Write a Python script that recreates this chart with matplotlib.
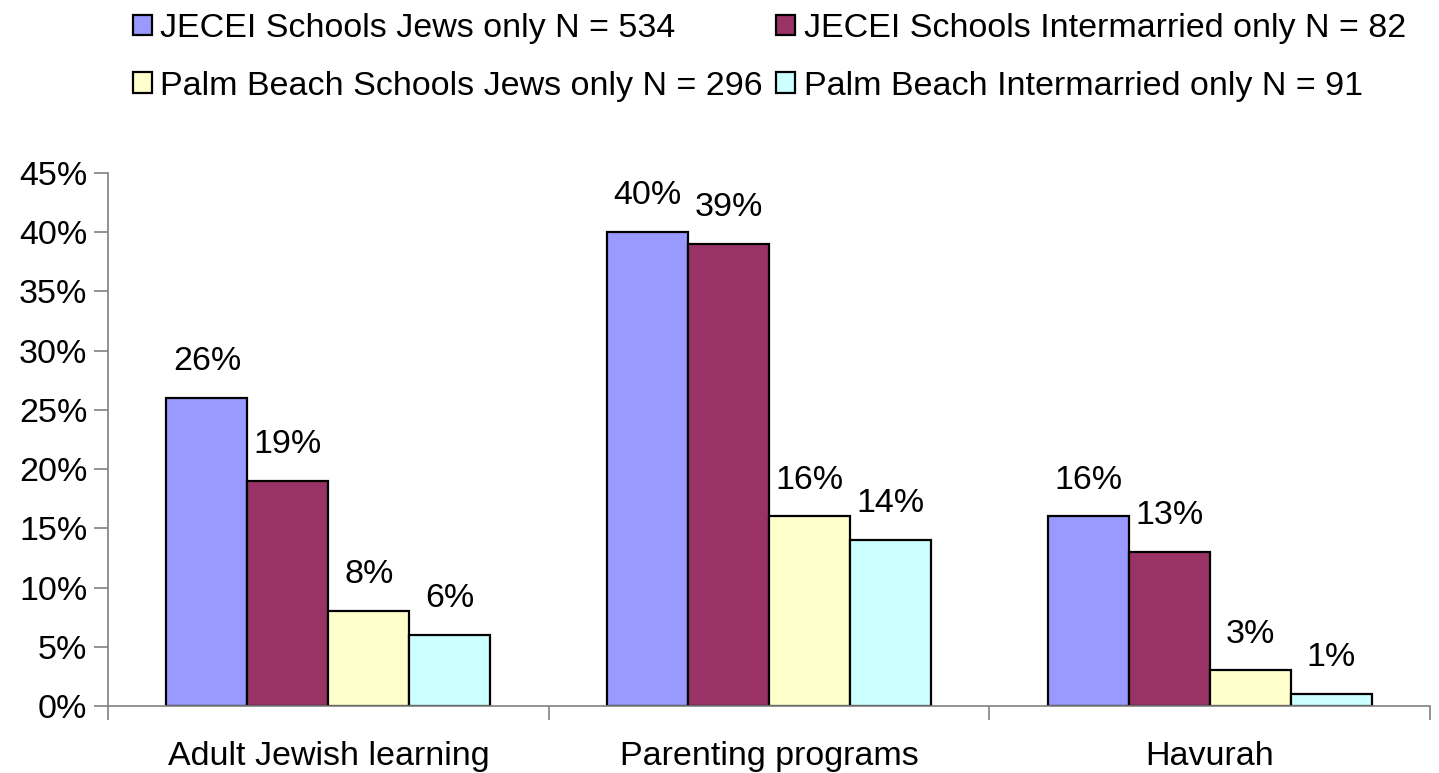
import numpy as np
import matplotlib.pyplot as plt
from matplotlib.ticker import FixedLocator, PercentFormatter

plt.rcParams['font.family'] = ['Liberation Sans', 'DejaVu Sans']

categories = ["Adult Jewish learning", "Parenting programs", "Havurah"]
series_names = [
    "JECEI Schools Jews only N = 534",
    "JECEI Schools Intermarried only N = 82",
    "Palm Beach Schools Jews only N = 296",
    "Palm Beach Intermarried only N = 91",
]
jecei_jews = [26, 40, 16]
jecei_inter = [19, 39, 13]
palm_jews = [8, 16, 3]
palm_inter = [6, 14, 1]
colors = ["#9999FF", "#993366", "#FFFFCC", "#CCFFFF"]

series = [jecei_jews, jecei_inter, palm_jews, palm_inter]
FS = 24.5

fig = plt.figure(figsize=(14.39, 7.73), dpi=100)
ax = fig.add_axes([108 / 1439, 1 - 706 / 773, (1430 - 108) / 1439, (706 - 173) / 773])

x = np.arange(len(categories))
w = 81 / 441
handles = []
for i, (vals, name, c) in enumerate(zip(series, series_names, colors)):
    pos = x + (i - 1.5) * w
    bars = ax.bar(pos, vals, width=w, color=c, edgecolor="black", linewidth=1.6, label=name)
    handles.append(bars)
    for p, v in zip(pos, vals):
        ax.annotate(f"{v}%", (p, v), xytext=(0, 15), textcoords="offset points",
                    ha="center", va="bottom", fontsize=FS)

ax.set_xlim(-0.5, 2.5)
ax.set_ylim(0, 45)
ax.yaxis.set_major_locator(FixedLocator(np.arange(0, 46, 5)))
ax.yaxis.set_major_formatter(PercentFormatter(decimals=0))
ax.xaxis.set_major_locator(FixedLocator([-0.5, 0.5, 1.5, 2.5]))
ax.xaxis.set_minor_locator(FixedLocator(x))
ax.set_xticklabels([])
ax.set_xticklabels(categories, minor=True)
ax.tick_params(axis="x", which="major", length=10, color="#808080", width=1.2, direction="out")
ax.tick_params(axis="x", which="minor", length=0, pad=25, labelsize=FS)
ax.tick_params(axis="y", length=10, color="#808080", width=1.2, labelsize=FS, pad=5)

for s in ["top", "right"]:
    ax.spines[s].set_visible(False)
for s in ["left", "bottom"]:
    ax.spines[s].set_color("#808080")
    ax.spines[s].set_linewidth(1.2)

order = [0, 2, 1, 3]
fig.legend(handles=[handles[k] for k in order], labels=[series_names[k] for k in order],
           ncol=2, loc="upper left",
           bbox_to_anchor=(116 / 1439, 1.005), frameon=False, fontsize=FS,
           handlelength=0.55, handleheight=0.55, handletextpad=0.25,
           columnspacing=0.4, labelspacing=0.78, borderaxespad=0.1)

fig.savefig("out.png", dpi=100)
